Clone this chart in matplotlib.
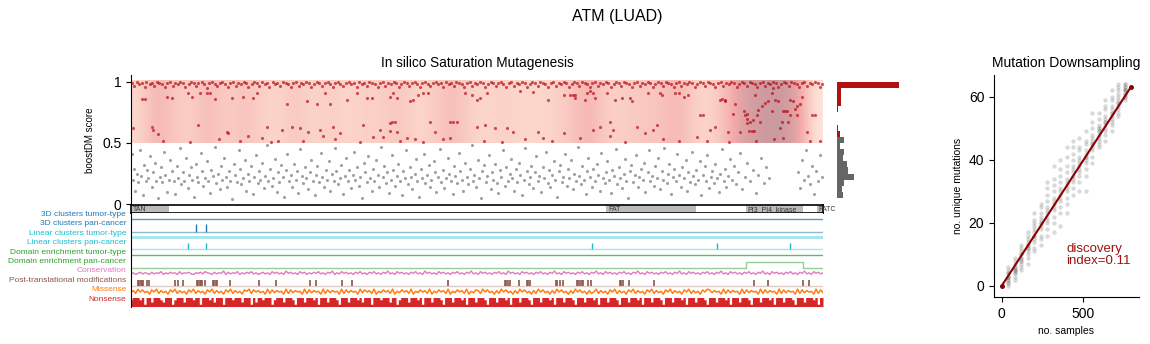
import numpy as np
import matplotlib.pyplot as plt
from matplotlib.colors import LinearSegmentedColormap
from matplotlib.transforms import blended_transform_factory

plt.rcParams['font.family'] = ['Liberation Sans', 'DejaVu Sans']

# ---------------- data ----------------
GENE = "ATM"
COHORT = "LUAD"
PROT_LEN = 3056

domain_names = ["TAN", "FAT", "PI3_PI4_kinase", "FATC"]
domain_start = [1, 2098, 2716, 3029]
domain_end = [166, 2495, 2968, 3056]

# intensity of the red background (0..1), evenly spaced along the protein
bg_level = [0.3, 0.55, 0.4, 0.35, 0.5, 0.35, 0.45, 0.35, 0.3, 0.42,
            0.3, 0.38, 0.3, 0.35, 0.35, 0.42, 0.3, 0.35, 0.5, 0.35,
            0.3, 0.35, 0.3, 0.3, 0.32, 0.42, 0.55, 0.35, 0.35, 0.42,
            0.4, 0.55, 0.35, 0.3, 0.5, 0.8, 0.85, 0.9, 0.75, 0.2]

# boostDM scores (position, score in %)
red_top = [
    (4,99),(15,97),(27,100),(36,98),(49,99),(61,96),(68,100),(82,98),(94,99),(103,97),
    (117,100),(125,99),(139,98),(150,96),(158,99),(171,100),(186,97),(194,99),(209,98),(216,100),
    (231,99),(240,96),(255,98),(263,100),(277,99),(289,97),(298,99),(312,100),(321,98),(336,95),
    (344,99),(357,100),(369,98),(378,97),(392,99),(404,100),(415,98),(427,96),(438,99),(451,100),
    (463,97),(472,99),(486,98),(497,100),(509,99),(518,96),(533,98),(541,100),(556,99),(565,97),
    (579,100),(590,98),(602,99),(611,96),(626,100),(637,98),(645,99),(659,97),(670,100),(683,99),
    (692,98),(706,96),(715,99),(729,100),(740,97),(752,99),(761,98),(775,100),(787,99),(796,96),
    (810,98),(822,100),(831,99),(845,97),(856,99),(868,100),(879,98),(891,96),(902,99),(914,100),
    (925,98),(937,97),(948,99),(961,100),(970,98),(984,99),(996,96),(1005,100),(1019,98),(1030,99),
    (1042,97),(1053,100),(1066,99),(1077,98),(1089,96),(1100,99),(1112,100),(1123,97),(1135,99),(1146,98),
    (1160,100),(1171,99),(1183,96),(1194,98),(1206,100),(1217,99),(1229,97),(1240,99),(1253,100),(1264,98),
    (1276,96),(1287,99),(1299,100),(1310,98),(1322,97),(1334,99),(1345,100),(1357,98),(1368,99),(1380,96),
    (1391,100),(1403,98),(1414,99),(1426,97),(1437,100),(1449,99),(1461,98),(1472,96),(1484,99),(1495,100),
    (1507,97),(1518,99),(1530,98),(1541,100),(1553,99),(1565,96),(1576,98),(1588,100),(1599,99),(1611,97),
    (1622,99),(1634,100),(1645,98),(1657,96),(1668,99),(1680,100),(1692,97),(1703,99),(1715,98),(1726,100),
    (1738,99),(1749,96),(1761,98),(1772,100),(1784,99),(1796,97),(1807,100),(1819,99),(1830,98),(1842,96),
    (1853,99),(1865,100),(1876,97),(1888,99),(1900,98),(1911,100),(1923,99),(1934,96),(1946,98),(1957,100),
    (1969,99),(1980,97),(1992,100),(2004,99),(2015,98),(2027,96),(2038,99),(2050,100),(2061,97),(2073,99),
    (2084,98),(2096,100),(2108,99),(2119,96),(2131,98),(2142,100),(2154,99),(2165,97),(2177,100),(2188,99),
    (2200,98),(2212,96),(2223,99),(2235,100),(2246,97),(2258,99),(2269,98),(2281,100),(2292,99),(2304,96),
    (2316,98),(2327,100),(2339,99),(2350,97),(2362,100),(2373,99),(2385,98),(2396,96),(2408,99),(2420,100),
    (2431,97),(2443,99),(2454,98),(2466,100),(2477,99),(2489,96),(2500,98),(2512,100),(2524,99),(2535,97),
    (2547,100),(2558,99),(2570,98),(2581,96),(2593,99),(2604,100),(2616,97),(2628,99),(2639,98),(2651,100),
    (2662,99),(2674,96),(2685,98),(2697,100),(2708,99),(2720,97),(2732,100),(2743,99),(2755,98),(2766,96),
    (2778,99),(2789,100),(2801,97),(2812,99),(2824,98),(2836,100),(2847,99),(2859,96),(2870,98),(2882,100),
    (2893,99),(2905,97),(2916,100),(2928,99),(2940,98),(2951,96),(2963,99),(2974,100),(2986,97),(2997,99),
    (3009,98),(3020,100),(3032,99),(3043,96),(3052,98)]

red_mid = [
    (10,62),(47,86),(62,86),(91,63),(98,61),(121,57),(157,88),(180,87),(253,91),(268,88),
    (297,65),(305,91),(334,91),(349,91),(371,86),(422,59),(430,58),(444,87),(496,88),(518,56),
    (540,87),(555,91),(577,54),(599,63),(651,52),(665,61),(687,82),(709,63),(746,62),(776,84),
    (783,59),(820,82),(835,61),(849,56),(857,91),(879,82),(893,63),(923,58),(952,85),(996,91),
    (1026,65),(1041,87),(1063,87),(1070,55),(1100,61),(1114,55),(1144,66),(1158,91),(1173,59),
    (1144,88),(1174,87),(1232,84),(1247,85),(1269,89),(1291,91),(1313,91),(1152,67),(1166,67),(1144,60),
    (1218,54),(1255,53),(1321,67),(1343,59),(1409,67),(1424,67),(1439,67),(1409,54),(1475,91),(1505,89),
    (1527,85),(1542,87),(1571,91),(1527,63),(1564,65),(1608,62),(1659,62),(1689,59),(1718,93),(1777,92),
    (1799,59),(1821,54),(1843,85),(1910,89),(1910,58),(1939,89),(1954,89),(1961,89),(1983,54),(2005,85),
    (2013,91),(2027,93),(2042,61),(2072,63),(2101,91),(2116,56),(2130,61),(1961,87),(2042,91),(2050,87),
    (2116,67),(2138,85),(2167,87),(2204,87),(2211,84),(2233,63),(2270,58),(2285,91),(2307,61),(2322,65),
    (2337,91),(2344,89),(2403,91),(2418,91),(2440,88),(2462,89),(2499,55),(2513,73),(2528,73),(2543,52),
    (2557,61),(2580,63),(2602,85),(2624,84),(2660,74),(2690,59),(2705,76),(2712,73),(2719,66),(2727,60),
    (2741,60),(2752,60),(2749,69),(2771,77),(2609,86),(2623,85),(2638,59),(2668,82),(2719,74),(2719,70),
    (2734,67),(2756,89),(2760,52),(2763,73),(2778,67),(2785,80),(2800,83),(2815,84),(2829,76),(2829,91),
    (2837,95),(2844,85),(2859,84),(2866,62),(2874,67),(2881,76),(2888,76),(2896,76),(2881,54),(2903,67),
    (2910,73),(2910,85),(2925,84),(2932,78),(2940,80),(2940,73),(2955,82),(2962,88),(2984,59),(2999,52),
    (3006,73),(3021,73),(3043,52),
    (140,52),(260,51),(390,53),(480,52),(620,51),(760,52),(900,53),(1010,51),(1190,52),(1290,51),
    (1380,53),(1560,52),(1640,51),(1740,53),(1860,52),(2180,51),(2350,53),(2420,52),(2640,51),(2840,53)]

gray_pts = [
    (3,41),(8,20),(14,29),(19,11),(25,25),(33,18),(38,44),(45,23),(51,7),(57,32),
    (66,19),(71,28),(77,21),(86,39),(92,14),(98,26),(107,34),(112,19),(119,5),(126,22),
    (133,30),(139,18),(146,43),(152,24),(161,10),(167,20),(173,36),(180,27),(189,19),(195,8),
    (202,31),(208,21),(217,46),(223,16),(229,26),(236,19),(244,38),(250,13),(256,24),(265,30),
    (271,20),(277,6),(286,33),(292,22),(298,18),(307,42),(313,27),(319,15),(328,21),(334,35),
    (340,19),(349,9),(355,28),(361,23),(370,47),(376,17),(382,25),(391,12),(397,31),(403,20),
    (412,38),(418,22),(424,14),(433,27),(439,19),(445,4),(454,33),(460,24),(466,18),(475,44),
    (481,29),(487,16),(496,21),(502,36),(508,11),(517,25),(523,19),(529,31),(538,8),(544,22),
    (550,40),(559,17),(565,27),(571,20),(580,34),(586,13),(592,23),(601,48),(607,19),(613,29),
    (622,15),(628,21),(634,37),(643,10),(649,26),(655,18),(664,32),(670,22),(676,6),(685,28),
    (691,41),(697,19),(706,24),(712,14),(718,33),(727,20),(733,27),(739,9),(748,45),(754,23),
    (760,17),(769,30),(775,21),(781,12),(790,26),(796,36),(802,19),(811,7),(817,24),(823,31),
    (832,18),(838,42),(844,22),(853,14),(859,28),(865,20),(874,35),(880,11),(886,25),(895,19),
    (901,46),(907,27),(916,16),(922,21),(928,32),(937,8),(943,23),(949,38),(958,19),(964,28),
    (970,13),(979,24),(985,43),(991,20),(1000,30),(1006,15),(1012,22),(1021,5),(1027,34),(1033,26),
    (1042,18),(1048,39),(1054,21),(1063,11),(1069,29),(1075,19),(1084,36),(1090,24),(1096,14),(1105,47),
    (1111,22),(1117,31),(1126,17),(1132,26),(1138,9),(1147,20),(1153,40),(1159,28),(1168,15),(1174,23),
    (1180,33),(1189,19),(1195,7),(1201,27),(1210,21),(1216,44),(1222,16),(1231,30),(1237,22),(1243,12),
    (1252,25),(1258,37),(1264,19),(1273,6),(1279,29),(1285,21),(1294,41),(1300,17),(1306,24),(1315,32),
    (1321,14),(1327,20),(1336,35),(1342,26),(1348,10),(1357,22),(1363,45),(1369,18),(1378,28),(1384,13),
    (1390,21),(1399,38),(1405,25),(1411,19),(1420,8),(1426,31),(1432,23),(1441,17),(1447,42),(1453,27),
    (1462,20),(1468,11),(1474,34),(1483,22),(1489,16),(1495,29),(1504,48),(1510,19),(1516,24),(1525,14),
    (1531,36),(1537,21),(1546,5),(1552,27),(1558,32),(1567,18),(1573,23),(1579,40),(1588,12),(1594,26),
    (1600,20),(1609,33),(1615,17),(1621,9),(1630,28),(1636,22),(1642,44),(1651,15),(1657,30),(1663,19),
    (1672,25),(1678,37),(1684,21),(1693,11),(1699,29),(1705,18),(1714,34),(1720,24),(1726,7),(1735,20),
    (1741,46),(1747,27),(1756,16),(1762,22),(1768,31),(1777,13),(1783,26),(1789,39),(1798,19),(1804,23),
    (1810,10),(1819,30),(1825,21),(1831,43),(1840,17),(1846,28),(1852,14),(1861,24),(1867,35),(1873,20),
    (1882,6),(1888,27),(1894,32),(1903,18),(1909,22),(1915,41),(1924,15),(1930,29),(1936,21),(1945,36),
    (1951,12),(1957,25),(1966,19),(1972,47),(1978,23),(1987,16),(1993,31),(1999,20),(2008,8),(2014,27),
    (2020,38),(2029,22),(2035,14),(2041,29),(2050,19),(2056,33),(2062,24),(2071,11),(2077,42),(2083,21),
    (2092,17),(2098,26),(2104,35),(2113,20),(2119,9),(2125,28),(2134,23),(2140,45),(2146,16),(2155,30),
    (2161,21),(2167,13),(2176,25),(2182,37),(2188,19),(2197,5),(2203,27),(2209,32),(2218,18),(2224,24),
    (2230,40),(2239,14),(2245,22),(2251,29),(2260,20),(2266,34),(2272,10),(2281,26),(2287,44),(2293,19),
    (2302,23),(2308,15),(2314,31),(2323,21),(2329,38),(2335,12),(2344,27),(2350,20),(2356,46),(2365,17),
    (2371,25),(2377,33),(2386,8),(2392,22),(2398,29),(2407,19),(2413,41),(2419,24),(2428,14),(2434,30),
    (2440,21),(2449,36),(2455,11),(2461,26),(2470,18),(2476,43),(2482,23),(2491,16),(2497,28),(2503,20),
    (2512,35),(2518,7),(2524,24),(2533,31),(2539,19),(2545,40),(2554,13),(2560,22),(2566,27),(2575,17),
    (2581,33),(2587,21),(2596,10),(2602,25),(2608,45),(2617,19),(2623,29),(2629,14),(2638,23),(2644,37),
    (2653,20),(2662,31),(2671,16),(2680,26),(2689,42),(2698,12),(2710,22),(2722,34),(2734,19),(2746,28),
    (2758,9),(2770,24),(2782,38),(2794,17),(2806,30),(2818,21),(2945,26),(2953,13),(2962,36),(2971,20),
    (2980,44),(2989,23),(2998,16),(3007,31),(3016,8),(3025,27),(3034,19),(3043,40),(3050,22)]

# score histogram: lower bin edge (%) and count
hist_lo = [5, 10, 15, 20, 25, 30, 35, 40, 45, 50, 55, 60, 65, 70, 75, 80, 85, 90, 95]
hist_count = [60, 47, 70, 170, 110, 97, 57, 70, 30, 70, 25, 7, 0, 0, 5, 40, 40, 40, 620]

# annotation tracks
track_names = ["3D clusters tumor-type", "3D clusters pan-cancer",
               "Linear clusters tumor-type", "Linear clusters pan-cancer",
               "Domain enrichment tumor-type", "Domain enrichment pan-cancer",
               "Conservation", "Post-translational modifications",
               "Missense", "Nonsense"]
track_colors = ["#1f77b4", "#1f77b4", "#17becf", "#17becf", "#2ca02c",
                "#2ca02c", "#e377c2", "#8c564b", "#ff7f0e", "#d62728"]

clusters3d_pan = [287, 331]
linear_pan = [252, 331, 2036, 2588, 2910]
domain_pan = [(2716, 2968)]
ptm_sites = [31, 36, 42, 48, 53, 71, 79, 194, 208, 230, 291, 297, 303, 309, 314,
             327, 362, 368, 374, 380, 437, 565, 640, 790, 817, 932, 976, 1400,
             1652, 1658, 1663, 1674, 1713, 1749, 1755, 1762, 1877, 1883, 1894,
             1908, 1970, 1976, 1983, 1990, 1996, 2018, 2031, 2159, 2165, 2173,
             2199, 2310, 2751, 2813, 2968, 2994]

conservation = (
    "46357465374658364756384657436574865374659374658364"
    "75846357463857463957463857364758463759364857463758"
    "46375846375946385746375846395746385746375846375946"
    "38574637584639574638574637584637594638574637584637"
    "59463857463758463759463857463758463759463857463758"
    "46375946385746375846375946385746375846375946385746")
missense = (
    "57395846285937462859374628593746285937462859374628"
    "69385746293847562938475629384756293847562938475629"
    "48573926485739264857392648573926485739264857392648"
    "73958462739584627395846273958462739584627395846273"
    "59374628593746285937462859374628593746285937462859"
    "84756293847562938475629384756293847562938475629384")
nonsense = (
    "34443414424443244413444244434414443424441444344424"
    "44142443444134442444314442444341444244431444244434"
    "24441444344424413444244434144424443144424443414442"
    "44431444244434144424443144424443414442444314442444"
    "34144424443144424443414442444314442444341444244431"
    "44424443414442444314442444341444244431444244434144")

# mutation downsampling
ds_x = [0, 40, 80, 120, 160, 200, 240, 280, 320, 360, 400,
        440, 480, 520, 560, 600, 640, 680, 720, 760, 796]
ds_y = [[0, 0, 0],
        [0, 1, 2, 2, 3, 3, 4, 4, 5, 6, 1, 3],
        [2, 3, 4, 5, 5, 6, 6, 7, 8, 9, 4, 5],
        [5, 6, 7, 8, 9, 9, 10, 11, 12, 13, 8, 10],
        [7, 9, 10, 11, 12, 13, 14, 15, 16, 17, 12, 13],
        [11, 12, 14, 15, 16, 17, 18, 19, 20, 21, 23, 16],
        [13, 15, 16, 18, 19, 20, 21, 22, 23, 25, 26, 20],
        [16, 18, 20, 21, 22, 23, 24, 25, 27, 29, 31, 33],
        [17, 20, 22, 24, 25, 26, 27, 28, 30, 32, 34, 38],
        [19, 23, 25, 27, 28, 29, 30, 31, 33, 35, 37, 40],
        [23, 26, 28, 30, 31, 32, 33, 34, 36, 38, 41, 44],
        [29, 31, 33, 34, 35, 36, 37, 38, 40, 42, 44, 46],
        [30, 33, 35, 37, 38, 39, 40, 41, 43, 44, 47, 36],
        [30, 35, 37, 39, 40, 41, 42, 43, 45, 46, 49, 41],
        [39, 41, 43, 44, 45, 46, 47, 48, 50, 52, 55, 45],
        [44, 45, 46, 47, 48, 49, 50, 51, 53, 55, 49, 50],
        [46, 48, 49, 50, 51, 52, 53, 54, 56, 57, 59, 52],
        [49, 51, 52, 53, 54, 55, 56, 57, 59, 60, 62, 55],
        [54, 55, 56, 57, 58, 59, 60, 61, 62, 63, 64, 58],
        [59, 60, 60, 61, 61, 62, 62, 63, 63, 64, 64, 62],
        [63]]
n_samples = 796
n_unique = 63
discovery_index = 0.11

# ---------------- figure ----------------
W, H = 1150, 344
fig = plt.figure(figsize=(W / 100, H / 100), dpi=100)


def px_axes(x0, y0, x1, y1):
    return fig.add_axes([x0 / W, 1 - y1 / H, (x1 - x0) / W, (y1 - y0) / H])


ax = px_axes(131, 75, 823, 205)
ax_hist = px_axes(837, 75, 905, 205)
ax_dom = px_axes(131, 205, 823, 213)
ax_trk = px_axes(131, 213, 823, 307)
ax_ds = px_axes(994, 75, 1139, 297)

fig.suptitle(f"{GENE} ({COHORT})", x=617 / W, y=1 - 17 / H, va='center', fontsize=11.5)

# saturation mutagenesis
bg_cmap = LinearSegmentedColormap.from_list(
    "bg", [(0, "#ffffff"), (0.3, "#fcd7cc"), (0.6, "#f3abaa"), (0.9, "#c8999e"), (1, "#c2959b")])
ax.imshow(np.array([bg_level]), cmap=bg_cmap, vmin=0, vmax=1, aspect='auto',
          extent=(0, PROT_LEN, 0.5, 1.015), interpolation='bicubic', zorder=0)

gp = np.array(gray_pts, dtype=float)
ax.scatter(gp[:, 0], gp[:, 1] / 100, s=5, color="#555555", alpha=0.55, lw=0, zorder=2)
for pts in (red_mid, red_top):
    rp = np.array(pts, dtype=float)
    ax.scatter(rp[:, 0], rp[:, 1] / 100, s=5, color="#b80f16", alpha=0.7, lw=0, zorder=3)

ax.set_xlim(0, PROT_LEN)
ax.set_ylim(-0.008, 1.057)
ax.set_yticks([0, 0.5, 1])
ax.set_yticklabels(["0", "0.5", "1"], fontsize=10)
ax.set_xticks([])
ax.set_ylabel("boostDM score", fontsize=7, labelpad=5)
ax.set_title("In silico Saturation Mutagenesis", fontsize=9.8)
for s in ["top", "right", "bottom"]:
    ax.spines[s].set_visible(False)

# histogram
hcol = ["#666666" if lo < 55 else "#b01212" for lo in hist_lo]
ax_hist.barh(np.array(hist_lo) / 100, hist_count, height=0.05, align='edge', color=hcol, lw=0)
ax_hist.set_ylim(ax.get_ylim())
ax_hist.set_xlim(0, 680)
ax_hist.axis('off')

# domains
ax_dom.set_xlim(0, PROT_LEN)
ax_dom.set_ylim(0, 1)
for name, a, b in zip(domain_names, domain_start, domain_end):
    ax_dom.axvspan(a, b, color="#bbbbbb", lw=0)
    ax_dom.text(a + 8, 0.45, name, fontsize=5, color="#333333", va='center', ha='left')
ax_dom.set_xticks([])
ax_dom.set_yticks([])
for s in ax_dom.spines.values():
    s.set_linewidth(1.2)

# tracks
ax_trk.set_xlim(0, PROT_LEN)
ax_trk.set_ylim(10, 0)
trans = blended_transform_factory(ax_trk.transAxes, ax_trk.transData)
for i, (name, c) in enumerate(zip(track_names, track_colors)):
    ax_trk.text(-0.007, i + 0.15, name, transform=trans, ha='right', va='center',
                fontsize=6, color=c)

ax_trk.axhline(0.64, color="#1f77b4", alpha=0.75, lw=1)
ax_trk.axhline(2.02, color="#1f77b4", alpha=0.5, lw=1)
ax_trk.vlines(clusters3d_pan, 1.17, 2.02, color="#1f77b4", lw=1)
ax_trk.axhline(2.55, color="#17becf", alpha=0.4, lw=2)
ax_trk.axhline(3.83, color="#17becf", alpha=0.4, lw=1)
ax_trk.vlines(linear_pan, 3.19, 3.83, color="#17becf", lw=1)
ax_trk.axhline(4.47, color="#2ca02c", alpha=0.75, lw=1)
dx, dy = [0], [5.85]
for a, b in domain_pan:
    dx += [a, a, b, b]
    dy += [5.85, 5.21, 5.21, 5.85]
dx.append(PROT_LEN)
dy.append(5.85)
ax_trk.plot(dx, dy, color="#2ca02c", alpha=0.5, lw=1)

cons = np.array([int(c) for c in conservation])
xs = np.linspace(0, PROT_LEN, len(cons))
ax_trk.plot(xs, 6.72 - cons * 0.06, color="#e377c2", lw=1)

ax_trk.axhline(7.77, color="#8c564b", alpha=0.3, lw=1)
ax_trk.vlines(ptm_sites, 7.13, 7.77, color="#8c564b", lw=1.2)

mis = np.array([int(c) for c in missense])
xs = np.linspace(0, PROT_LEN, len(mis))
ax_trk.plot(xs, 8.78 - mis * 0.075, color="#ff7f0e", lw=1.1)

non = np.array([int(c) for c in nonsense])
xs = np.linspace(0, PROT_LEN, len(non))
ax_trk.fill_between(xs, 9.95, 9.95 - non * 0.24, step='mid', color="#d62728", lw=0)

ax_trk.set_xticks([])
ax_trk.set_yticks([])
for s in ["top", "right", "bottom"]:
    ax_trk.spines[s].set_visible(False)

# mutation downsampling
for x, ys in zip(ds_x, ds_y):
    ax_ds.scatter([x] * len(ys), ys, s=10, color="#555555", alpha=0.22, lw=0)
ax_ds.plot([0, n_samples], [0, n_unique], color="#8b0000", lw=1.5, marker='o', markersize=2.5)
ax_ds.text(397, 13.5, f"discovery\nindex={discovery_index}", color="#a01010",
           fontsize=9.5, va='top', ha='left', linespacing=1.0)
ax_ds.set_xlim(-47, 847)
ax_ds.set_ylim(-3.5, 66.9)
ax_ds.set_xticks([0, 500])
ax_ds.set_yticks([0, 20, 40, 60])
ax_ds.tick_params(labelsize=10)
ax_ds.set_xlabel("no. samples", fontsize=7.5)
ax_ds.set_ylabel("no. unique mutations", fontsize=7.5, labelpad=4)
ax_ds.set_title("Mutation Downsampling", fontsize=10)
for s in ["top", "right"]:
    ax_ds.spines[s].set_visible(False)

fig.savefig("out.png", dpi=100)
